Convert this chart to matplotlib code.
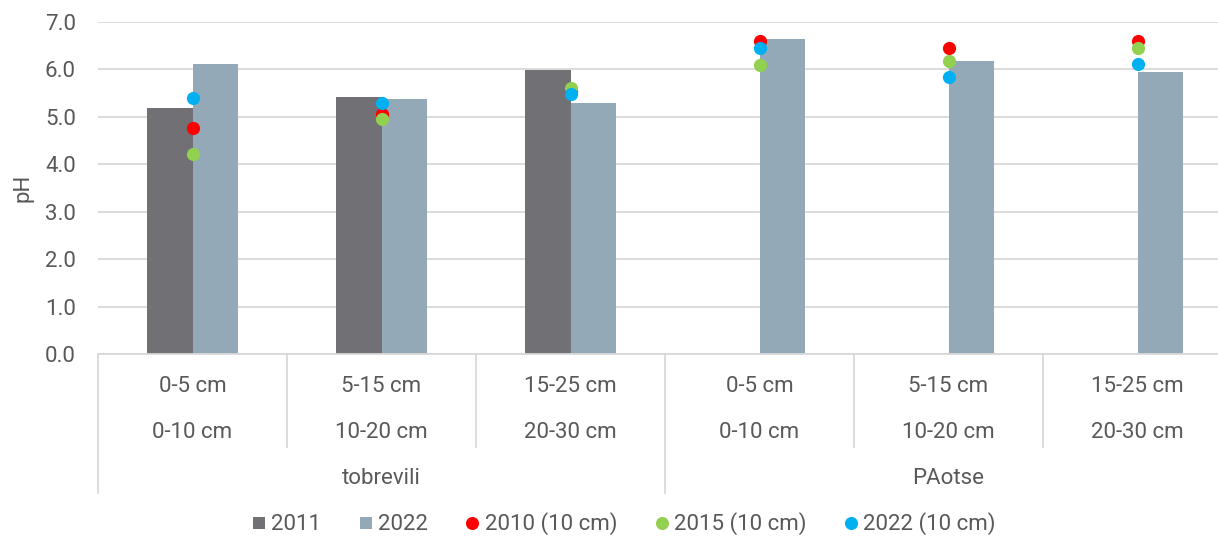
import matplotlib
matplotlib.use("Agg")
import matplotlib.pyplot as plt
from matplotlib.lines import Line2D
import numpy as np

plt.rcParams['font.family'] = ['Roboto', 'DejaVu Sans']

depth_top = ["0-5 cm", "5-15 cm", "15-25 cm", "0-5 cm", "5-15 cm", "15-25 cm"]
depth_bottom = ["0-10 cm", "10-20 cm", "20-30 cm", "0-10 cm", "10-20 cm", "20-30 cm"]
groups = ["tobrevili", "PAotse"]

bar_2011 = [5.19, 5.42, 5.99, np.nan, np.nan, np.nan]
bar_2022 = [6.11, 5.38, 5.29, 6.65, 6.18, 5.95]
dot_2010 = [4.76, 5.07, 5.55, 6.59, 6.46, 6.59]
dot_2015 = [4.22, 4.95, 5.60, 6.09, 6.18, 6.46]
dot_2022 = [5.39, 5.29, 5.48, 6.46, 5.85, 6.12]

c_dark = "#717075"
c_light = "#94A9B8"
c_red = "#FF0000"
c_green = "#92D050"
c_blue = "#00B0F0"
grid_c = "#D9D9D9"
txt_c = "#595959"
fs = 16

W, H = 1218, 540
fig = plt.figure(figsize=(W/100, H/100), dpi=100)
ax = fig.add_axes([98/W, (540-354)/H, (1218-98)/W, (354-22)/H])

x = np.arange(len(bar_2022))
bw = 0.24
ax.bar(x - bw/2, bar_2011, width=bw, color=c_dark, zorder=2)
ax.bar(x + bw/2, bar_2022, width=bw, color=c_light, zorder=2)
ms = 9.5
ax.plot(x, dot_2010, 'o', color=c_red, ms=ms, zorder=3, markeredgewidth=0)
ax.plot(x, dot_2015, 'o', color=c_green, ms=ms, zorder=4, markeredgewidth=0)
ax.plot(x, dot_2022, 'o', color=c_blue, ms=ms, zorder=5, markeredgewidth=0)

cat_w = 189.0
ax.set_xlim(-0.5, -0.5 + (1218-98)/cat_w)
ax.set_ylim(0, 7)
ax.set_yticks(np.arange(0, 7.01, 1.0))
ax.set_yticklabels([f"{v:.1f}" for v in np.arange(0, 7.01, 1.0)])
ax.yaxis.grid(True, color=grid_c, linewidth=1.3, zorder=0)
ax.set_axisbelow(True)
for s in ["top", "right", "left"]:
    ax.spines[s].set_visible(False)
ax.spines["bottom"].set_color(grid_c)
ax.spines["bottom"].set_linewidth(1.3)
ax.tick_params(axis='y', length=0, pad=16, labelsize=fs, labelcolor=txt_c)
ax.tick_params(axis='x', length=0, labelbottom=False)
ax.set_ylabel("pH", fontsize=fs, color=txt_c, labelpad=8)

tr = ax.get_xaxis_transform()
ah = 354 - 22
def yf(py):
    return -(py - 354) / ah

for i in range(len(x)):
    ax.text(x[i], yf(387), depth_top[i], transform=tr, ha='center', va='center',
            fontsize=fs, color=txt_c)
    ax.text(x[i], yf(433), depth_bottom[i], transform=tr, ha='center', va='center',
            fontsize=fs, color=txt_c)
for g, name in enumerate(groups):
    ax.text(g*3 + 1, yf(479), name, transform=tr, ha='center', va='center',
            fontsize=fs, color=txt_c)

# separators
for b in [0.5, 1.5, 3.5, 4.5]:
    ax.add_line(Line2D([b, b], [0, yf(447)], transform=tr, color=grid_c, lw=1.3, clip_on=False))
for b in [-0.5, 2.5]:
    ax.add_line(Line2D([b, b], [0, yf(493)], transform=tr, color=grid_c, lw=1.3, clip_on=False))

handles = [
    Line2D([], [], marker='s', ls='', color=c_dark, ms=8.6, markeredgewidth=0),
    Line2D([], [], marker='s', ls='', color=c_light, ms=8.6, markeredgewidth=0),
    Line2D([], [], marker='o', ls='', color=c_red, ms=9.4, markeredgewidth=0),
    Line2D([], [], marker='o', ls='', color=c_green, ms=9.4, markeredgewidth=0),
    Line2D([], [], marker='o', ls='', color=c_blue, ms=9.4, markeredgewidth=0),
]
labels = ["2011", "2022", "2010 (10 cm)", "2015 (10 cm)", "2022 (10 cm)"]
leg = fig.legend(handles, labels, loc='center', bbox_to_anchor=(624/W, 16/H), ncol=5,
                 frameon=False, fontsize=fs, handlelength=0.6, handletextpad=0.25,
                 columnspacing=1.7, labelcolor=txt_c, borderaxespad=0, borderpad=0)

fig.savefig("out.png", dpi=100)
